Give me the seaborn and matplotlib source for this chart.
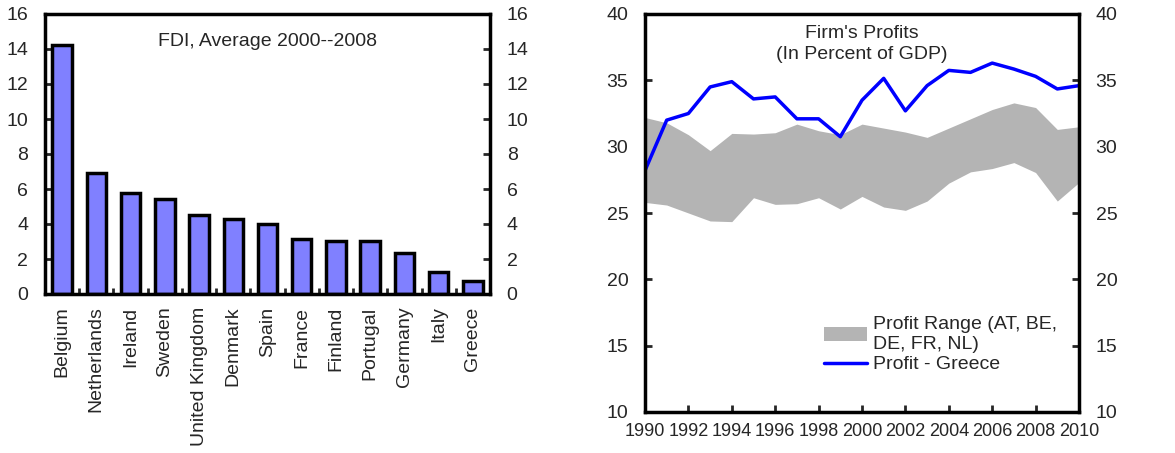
import matplotlib.pyplot as plt
import pandas as pd
import seaborn as sns

countries = ["Belgium", "Netherlands", "Ireland", "Sweden", "United Kingdom", "Denmark",
             "Spain", "France", "Finland", "Portugal", "Germany", "Italy", "Greece"]
fdi = [14.2, 6.9, 5.8, 5.45, 4.5, 4.3, 4.0, 3.15, 3.05, 3.05, 2.35, 1.25, 0.75]

years = list(range(1990, 2011))
greece_profit = [28.2, 32.0, 32.5, 34.5, 34.9, 33.6, 33.75, 32.1, 32.1, 30.75, 33.5, 35.15,
                 32.7, 34.6, 35.75, 35.6, 36.3, 35.85, 35.3, 34.35, 34.6]
range_high = [32.2, 31.8, 30.9, 29.7, 31.0, 30.95, 31.05, 31.7, 31.2, 30.9, 31.7, 31.4,
              31.1, 30.7, 31.4, 32.1, 32.8, 33.3, 32.95, 31.3, 31.5]
range_low = [25.8, 25.6, 25.0, 24.4, 24.35, 26.15, 25.65, 25.7, 26.15, 25.3, 26.25, 25.45,
             25.2, 25.9, 27.25, 28.1, 28.35, 28.8, 28.05, 25.9, 27.3]

sns.set_style("white")
plt.rcParams["font.family"] = ["Liberation Sans", "DejaVu Sans"]
plt.rcParams["font.size"] = 14

fig = plt.figure(figsize=(11.75, 4.53), dpi=100)
ax1 = fig.add_axes([45 / 1175, 1 - 294 / 453, 445 / 1175, 280 / 453])
ax2 = fig.add_axes([645 / 1175, 1 - 412 / 453, 434 / 1175, 398 / 453])

# FDI bars
df_fdi = pd.DataFrame({"country": countries, "fdi": fdi})
sns.barplot(data=df_fdi, x="country", y="fdi", color="#8080FF", saturation=1,
            edgecolor="black", linewidth=2.5, width=0.57, ax=ax1)
ax1.set_xlim(-0.5, len(countries) - 0.5)
ax1.set_ylim(0, 16)
ax1.set_yticks(range(0, 17, 2))
ax1.set_xlabel("")
ax1.set_ylabel("")
ax1.set_xticks(range(len(countries)))
ax1.set_xticklabels(countries, rotation=90)
ax1.set_xticks([i + 0.5 for i in range(len(countries) - 1)], minor=True)
ax1.tick_params(axis="x", which="major", length=0, pad=9)
ax1.tick_params(axis="x", which="minor", direction="in", length=4, width=2, bottom=True)
ax1.tick_params(axis="y", direction="in", length=5, width=2, left=True, right=True,
                labelleft=True, labelright=True, pad=12)
ax1.text(0.5, 0.9, "FDI, Average 2000--2008", transform=ax1.transAxes,
         ha="center", va="center")

# Profits
df_p = pd.DataFrame({"year": years, "greece": greece_profit,
                     "high": range_high, "low": range_low})
ax2.fill_between(df_p["year"], df_p["low"], df_p["high"], color="#B4B4B4",
                 linewidth=0, label="Profit Range (AT, BE,\nDE, FR, NL)")
sns.lineplot(data=df_p, x="year", y="greece", color="#0000FF", linewidth=2.5,
             label="Profit - Greece", ax=ax2)
ax2.set_xlim(1990, 2010)
ax2.set_ylim(10, 40)
ax2.set_xticks(range(1990, 2011, 2))
ax2.set_yticks(range(10, 41, 5))
ax2.set_xlabel("")
ax2.set_ylabel("")
ax2.tick_params(axis="x", direction="in", length=5, width=2, bottom=True, pad=8,
                labelsize=13)
ax2.tick_params(axis="y", direction="in", length=5, width=2, left=True, right=True,
                labelleft=True, labelright=True, pad=12)
ax2.text(0.5, 0.925, "Firm's Profits\n(In Percent of GDP)", transform=ax2.transAxes,
         ha="center", va="center", linespacing=1.3)
ax2.legend(loc="upper left", bbox_to_anchor=(0.39, 0.265), frameon=False,
           handlelength=2.2, handletextpad=0.3, labelspacing=0.15, borderpad=0)

for ax in (ax1, ax2):
    for s in ax.spines.values():
        s.set_linewidth(2.5)
        s.set_color("black")

fig.savefig("out.png", dpi=100)
